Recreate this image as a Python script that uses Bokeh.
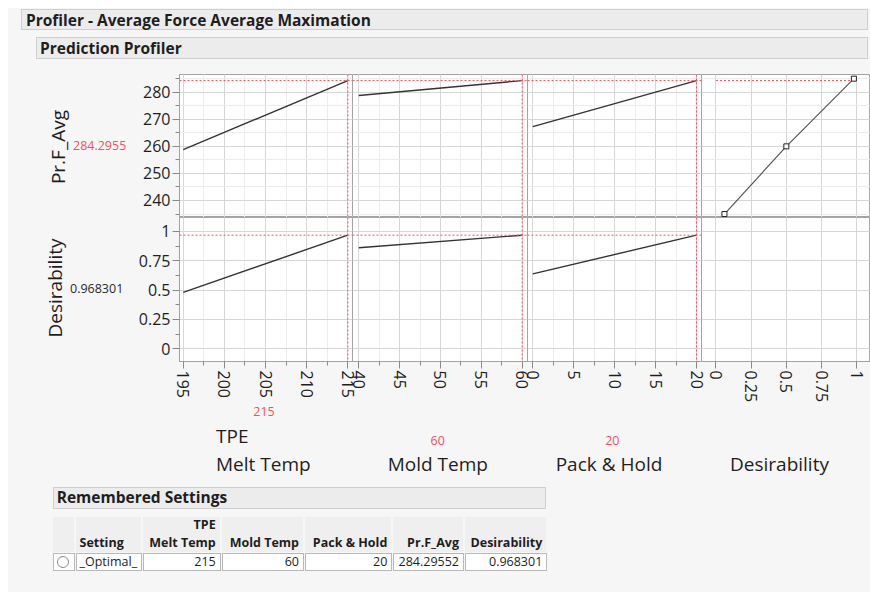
import html
from bokeh.plotting import figure
from bokeh.layouts import row, column
from bokeh.models import Range1d, SingleIntervalTicker, Div, Span, CustomJSTickFormatter, Grid
from bokeh.embed import file_html
from bokeh.resources import INLINE

# ---------------- data ----------------
title_main = "Profiler - Average Force Average Maximation"
title_sub = "Prediction Profiler"
response_name = "Pr.F_Avg"
desir_name = "Desirability"
factor_names = ["Melt Temp", "Mold Temp", "Pack & Hold"]
factor_prefix = ["TPE", "", ""]

melt_temp = [195, 215]
melt_pred = [258.8, 284.2955]
melt_desir = [0.481, 0.968301]

mold_temp = [40, 60]
mold_pred = [278.8, 284.2955]
mold_desir = [0.861, 0.968301]

pack_hold = [0, 20]
pack_pred = [267.3, 284.2955]
pack_desir = [0.639, 0.968301]

desir_fn_d = [0.06, 0.5, 0.98]
desir_fn_y = [235, 260, 285]

current_factors = [215, 60, 20]
current_factor_labels = ["215", "60", "20"]
current_pred = 284.2955
current_desir = 0.968301
current_pred_label = "284.2955"
current_desir_label = "0.968301"

remembered_title = "Remembered Settings"
table_header_top = ["", "", "TPE", "", "", "", ""]
table_header = ["", "Setting", "Melt Temp", "Mold Temp", "Pack & Hold", "Pr.F_Avg", "Desirability"]
table_row = ["", "_Optimal_", "215", "60", "20", "284.29552", "0.968301"]

# ---------------- style ----------------
BG = "#f6f6f6"
FONT = "Open Sans"
RED = "#f2505e"
GRID = "#d6d6d6"
MINOR = "#ececec"
FRAME = "#a3a3a3"
TXT = "#1e1e1e"

x_ranges = [(194.55, 215.57), (39.23, 60.65), (-0.65, 20.61), (-0.103, 1.098)]
x_int = [5, 5, 5, 0.25]
x_minor = [2, 2, 2, 0]
frame_w = [173, 175, 174, 169]
PAD = 6
y_top = (233.72, 286.54)
y_bot = (-0.108, 1.119)

xs = [melt_temp, mold_temp, pack_hold]
preds = [melt_pred, mold_pred, pack_pred]
desirs = [melt_desir, mold_desir, pack_desir]

desir_fmt = CustomJSTickFormatter(code="return String(Math.round(tick*1000)/1000);")


def style_axis(ax, vertical=False):
    ax.axis_line_color = FRAME
    ax.major_tick_line_color = "#8a8a8a"
    ax.minor_tick_line_color = "#8a8a8a"
    ax.major_tick_out = 7
    ax.major_tick_in = 0
    ax.minor_tick_out = 4
    ax.minor_tick_in = 0
    ax.major_label_text_font = FONT
    ax.major_label_text_font_size = "16px"
    ax.major_label_text_color = TXT
    ax.major_label_standoff = 2
    if vertical:
        ax.major_label_orientation = "vertical"


def make_fig(ci, ri):
    top = ri == 0
    first = ci == 0
    last = ci == 3
    bl = 44 if first else PAD
    br = 0 if last else PAD
    p = figure(width=frame_w[ci] + bl + br, height=144 if top else 189,
               x_range=Range1d(*x_ranges[ci]),
               y_range=Range1d(*(y_top if top else y_bot)),
               x_axis_location=None if top else "below",
               y_axis_location="left" if first else None,
               toolbar_location=None, output_backend="svg",
               min_border=0, min_border_left=bl, min_border_right=br,
               min_border_top=1 if top else 0,
               min_border_bottom=0 if top else 45,
               background_fill_color="white", border_fill_color=None,
               outline_line_color=FRAME,
               margin=(0, 0, 0, 0 if first else -2 * PAD))
    p.center = [r for r in p.center if not isinstance(r, Grid)]
    xt = SingleIntervalTicker(interval=x_int[ci], num_minor_ticks=x_minor[ci])
    yt = SingleIntervalTicker(interval=10 if top else 0.25, num_minor_ticks=2)
    p.add_layout(Grid(dimension=0, ticker=xt, grid_line_color=GRID,
                      minor_grid_line_color=MINOR if x_minor[ci] else None), "center")
    p.add_layout(Grid(dimension=1, ticker=yt, grid_line_color=GRID,
                      minor_grid_line_color=MINOR if top else None), "center")
    for ax in p.xaxis:
        ax.ticker = xt
        style_axis(ax, vertical=True)
        if ci == 3:
            ax.formatter = desir_fmt
    for ax in p.yaxis:
        ax.ticker = yt
        style_axis(ax)
        if not top:
            ax.formatter = desir_fmt

    if ci < 3:
        yv = preds[ci] if top else desirs[ci]
        p.add_layout(Span(location=current_factors[ci], dimension="height",
                          line_color=RED, line_dash="2 2", line_width=1))
        p.add_layout(Span(location=current_pred if top else current_desir, dimension="width",
                          line_color=RED, line_dash="2 2", line_width=1))
        p.line(xs[ci], yv, line_color="#333333", line_width=1.4)
    elif top:
        p.segment(x0=[0], x1=[current_desir], y0=[current_pred], y1=[current_pred],
                  line_color=RED, line_dash="2 2", line_width=1)
        p.line(desir_fn_d, desir_fn_y, line_color="#555555", line_width=1.2)
        p.scatter(desir_fn_d, desir_fn_y, marker="square", size=5,
                  fill_color="white", line_color="#222222", line_width=1)
    return p


top_figs = [make_fig(c, 0) for c in range(4)]
bot_figs = [make_fig(c, 1) for c in range(4)]

esc = html.escape


def absdiv(left, top, text, size, color=TXT, weight="normal", rotate=False, center_x=False):
    tr = "translate(-50%,-50%) rotate(-90deg)" if rotate else ("translate(-50%,-50%)" if center_x else "translateY(-50%)")
    return (f'<div style="position:absolute;left:{left}px;top:{top}px;transform:{tr};'
            f'font-size:{size}px;line-height:1;white-space:nowrap;color:{color};font-weight:{weight};">'
            f'{esc(text)}</div>')


W = 862

# ---------- header ----------
hdr = [f'<div style="position:relative;width:{W}px;height:65px;font-family:\'{FONT}\';">']
hdr.append(f'<div style="position:absolute;left:13px;top:1px;width:{W - 15}px;height:21px;background:#ececec;'
           f'border:1px solid #cfcfcf;"></div>')
hdr.append(absdiv(18, 12.5, title_main, 15.5, weight="bold"))
hdr.append(f'<div style="position:absolute;left:28px;top:29px;width:{W - 30}px;height:22px;background:#ececec;'
           f'border:1px solid #cfcfcf;"></div>')
hdr.append(absdiv(32, 41, title_sub, 15.5, weight="bold"))
hdr.append('</div>')
header_div = Div(text="".join(hdr), width=W, height=65, margin=0)

# ---------- left labels ----------
lft = [f'<div style="position:relative;width:127px;height:333px;font-family:\'{FONT}\';">']
lft.append(absdiv(50, 73.5, response_name, 19, rotate=True))
lft.append(absdiv(65, 73, current_pred_label, 12.5, color=RED))
lft.append(absdiv(47, 215.3, desir_name, 19, rotate=True))
lft.append(absdiv(62, 216.3, current_desir_label, 12.5, color="#2a2a2a"))
lft.append('</div>')
left_div = Div(text="".join(lft), width=127, height=333, margin=0)

# ---------- bottom labels + table ----------
BH = 186
bt = [f'<div style="position:relative;width:{W}px;height:{BH}px;font-family:\'{FONT}\';">']
red_pos = [(256, 6.3), (429.7, 34.7), (604.3, 34.7)]
title_left = [208, 379.7, 547.7]
for i in range(3):
    bt.append(absdiv(red_pos[i][0], red_pos[i][1], current_factor_labels[i], 12.5, color=RED, center_x=True))
    if factor_prefix[i]:
        bt.append(absdiv(title_left[i], 30, factor_prefix[i], 19))
    bt.append(absdiv(title_left[i], 58.3, factor_names[i], 19))
bt.append(absdiv(722, 58.3, desir_name, 19))

# remembered settings header
bt.append('<div style="position:absolute;left:44.7px;top:80.7px;width:493px;height:22px;background:#ececec;'
          'border:1px solid #cfcfcf;"></div>')
bt.append(absdiv(48.7, 92.3, remembered_title, 15.5, weight="bold"))

col_x = [44.7, 68, 134.7, 213.7, 297, 385.3, 457, 540.3]
h_top, h_bot, d_bot = 110.5, 146.7, 165.7
for i in range(7):
    x0, x1 = col_x[i], col_x[i + 1]
    bt.append(f'<div style="position:absolute;left:{x0}px;top:{h_top}px;width:{x1 - x0 - 2}px;'
              f'height:{h_bot - h_top - 1}px;background:#efefef;"></div>')
    bt.append(f'<div style="position:absolute;left:{x0}px;top:{h_bot}px;width:{x1 - x0 - 1}px;'
              f'height:{d_bot - h_bot - 1}px;background:white;border:1px solid #b8b8b8;box-sizing:border-box;"></div>')
    align_left = i == 1
    for txt, yy, w in [(table_header_top[i], 119, "bold"), (table_header[i], 136.5, "bold"),
                       (table_row[i], 156.2, "normal")]:
        if not txt:
            continue
        if align_left:
            bt.append(f'<div style="position:absolute;left:{x0 + 3.5}px;top:{yy}px;transform:translateY(-50%);'
                      f'font-size:12.5px;line-height:1;white-space:nowrap;color:{TXT};font-weight:{w};">{esc(txt)}</div>')
        else:
            rgt = W - (x1 - 6)
            bt.append(f'<div style="position:absolute;right:{rgt}px;top:{yy}px;transform:translateY(-50%);'
                      f'font-size:12.5px;line-height:1;white-space:nowrap;color:{TXT};font-weight:{w};">{esc(txt)}</div>')
# radio button
bt.append('<div style="position:absolute;left:48.5px;top:149.5px;width:12px;height:12px;border-radius:50%;'
          'border:1px solid #8a8a8a;background:white;box-sizing:border-box;"></div>')
bt.append('</div>')
bottom_div = Div(text="".join(bt), width=W, height=BH, margin=0)

grid_block = column(row(*top_figs, spacing=0), row(*bot_figs, spacing=0), spacing=0)
mid = row(left_div, grid_block, spacing=0)
root = column(header_div, mid, bottom_div, spacing=0, margin=(8, 0, 0, 8),
              styles={"background-color": BG})

open("out.html", "w").write(file_html(root, INLINE))
